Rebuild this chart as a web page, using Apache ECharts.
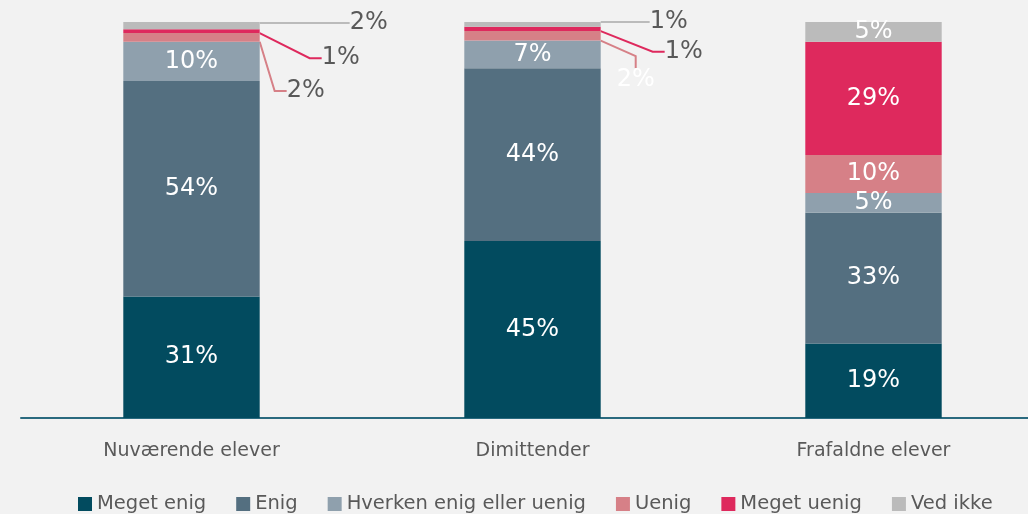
<!DOCTYPE html>
<html>
<head>
<meta charset="utf-8">
<script src="https://cdn.jsdelivr.net/npm/echarts@6/dist/echarts.min.js"></script>
<style>
  html, body { margin: 0; padding: 0; background: #f2f2f2; overflow: hidden; }
  #main { width: 1044px; height: 514px; }
</style>
</head>
<body>
<div id="main"></div>
<script>
// kategorier og svarandele (%)
const categories = ['Nuværende elever', 'Dimittender', 'Frafaldne elever']
const seriesNames = ['Meget enig', 'Enig', 'Hverken enig eller uenig', 'Uenig', 'Meget uenig', 'Ved ikke']
const megetEnig = [30.7, 44.7, 18.8]
const enig = [54.4, 43.6, 33.0]
const hverken = [9.9, 7.0, 5.0]
const uenig = [2.2, 2.4, 9.6]
const megetUenig = [1.0, 1.1, 28.6]
const vedIkke = [1.8, 1.2, 5.0]

const values = [megetEnig, enig, hverken, uenig, megetUenig, vedIkke]
const colors = ['#024b5f', '#546f80', '#8fa0ad', '#d68087', '#de295d', '#bbbbbb']

// labels der står uden for søjlen (serie-index -> dataIndex -> placering)
const outside = {
  3: { 0: { dx: 46, dy: 58, color: '#595959' }, 1: { dx: 35, dy: 49, color: '#ffffff' } },
  4: { 0: { dx: 81, dy: 29, color: '#595959' }, 1: { dx: 83, dy: 25, color: '#595959' } },
  5: { 0: { dx: 109, dy: 1, color: '#595959' }, 1: { dx: 68, dy: 0, color: '#595959' } }
}

const chart = echarts.init(document.getElementById('main'))

const series = seriesNames.map((name, si) => ({
  name,
  type: 'bar',
  stack: 'total',
  barWidth: '40%',
  itemStyle: { color: colors[si] },
  label: {
    show: true,
    position: 'inside',
    color: '#ffffff',
    fontFamily: 'DejaVu Sans',
    fontSize: 24,
    formatter: (p) => Math.round(p.value) + '%'
  },
  labelLine: {
    show: !!outside[si],
    length2: 12,
    lineStyle: { color: colors[si], width: 2 }
  },
  labelLayout: (params) => {
    const o = outside[si] && outside[si][params.dataIndex]
    if (!o) return {}
    return {
      x: params.rect.x + params.rect.width + o.dx,
      y: params.rect.y + o.dy,
      align: 'center',
      verticalAlign: 'middle'
    }
  },
  data: values[si].map((v, di) => {
    const o = outside[si] && outside[si][di]
    if (!o) return { value: v, labelLine: { show: false } }
    return { value: v, label: { color: o.color } }
  })
}))

const option = {
  backgroundColor: '#f2f2f2',
  animation: false,
  color: colors,
  grid: { left: 21, right: 0, top: 22, bottom: 96 },
  legend: {
    top: 494,
    left: 78,
    padding: 0,
    icon: 'rect',
    itemWidth: 14,
    itemHeight: 14,
    itemGap: 30,
    textStyle: { color: '#595959', fontFamily: 'DejaVu Sans', fontSize: 19.5 },
    data: seriesNames
  },
  xAxis: {
    type: 'category',
    data: categories,
    axisTick: { show: false },
    axisLine: { lineStyle: { color: '#2a6a7f', width: 2 } },
    axisLabel: { color: '#595959', fontFamily: 'DejaVu Sans', fontSize: 19, margin: 24 }
  },
  yAxis: {
    type: 'value',
    min: 0,
    max: 100,
    show: false,
    splitLine: { show: false }
  },
  series
}

chart.setOption(option)
</script>
</body>
</html>
